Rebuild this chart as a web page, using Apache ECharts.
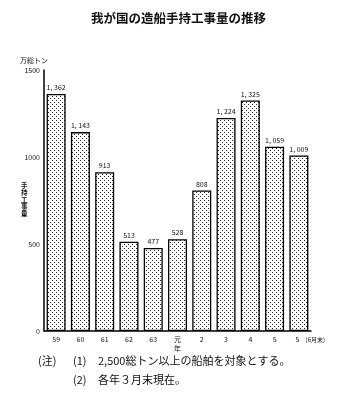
<!DOCTYPE html>
<html><head><meta charset="utf-8">
<script src="https://cdn.jsdelivr.net/npm/echarts@6/dist/echarts.min.js"></script>
<style>html,body{margin:0;padding:0;background:#fff}#c{width:357px;height:398px}</style>
</head><body><div id="c"></div>
<script>
var categories = ['59','60','61','62','63','元\n年','2','3','4','5','5 (6月末)'];
var values = [1362,1143,913,513,477,528,808,1224,1325,1059,1009];
var yTicks = [0,500,1000,1500];
var title = '我が国の造船手持工事量の推移';
var yUnit = '万総トン';
var yName = '手持工事量';
var noteHead = '(注)';
var noteNums = ['(1)','(2)'];
var notes = ['2,500総トン以上の船舶を対象とする。','各年３月末現在。'];

var FONT = '"Noto Sans CJK JP", sans-serif';
var cv = document.createElement('canvas');
cv.width = 4; cv.height = 4;
var cx = cv.getContext('2d');
cx.fillStyle = '#fff'; cx.fillRect(0,0,4,4);
cx.fillStyle = '#222';
cx.fillRect(0,0,1,1); cx.fillRect(2,2,1,1);

var chart = echarts.init(document.getElementById('c'), null, {renderer:'canvas'});
chart.setOption({
  animation:false,
  backgroundColor:'#fff',
  title:{text:title,left:'center',top:7,textStyle:{fontFamily:FONT,fontSize:12.5,fontWeight:'bold',color:'#111'}},
  grid:{left:44,right:46,top:70,bottom:67},
  xAxis:{type:'category',data:categories,
    axisLine:{lineStyle:{color:'#000',width:1.5}},axisTick:{show:false},
    axisLabel:{interval:0,margin:4,fontFamily:FONT,fontSize:7,color:'#111',lineHeight:9,
      formatter:function(v,i){ if(i===categories.length-1){ var p=v.split(' '); return '{p|}{n|'+p[0]+'}{s|'+p[1]+'}'; } return v; },
      rich:{p:{width:26},n:{fontSize:7,fontFamily:FONT,color:'#111'},s:{width:26,fontSize:6,fontFamily:FONT,color:'#111',padding:[0,0,0,3]}}}},
  yAxis:{type:'value',min:yTicks[0],max:yTicks[yTicks.length-1],interval:500,
    axisLine:{show:true,lineStyle:{color:'#000',width:1.5}},axisTick:{show:false},splitLine:{show:false},
    axisLabel:{margin:4,fontFamily:FONT,fontSize:7,color:'#111',formatter:function(v){return String(v);}}},
  graphic:[
    {type:'text',left:20,top:57,style:{text:yUnit,fontFamily:FONT,fontSize:7,fill:'#111'}},
    {type:'text',left:21,top:182,style:{text:yName.split('').join('\n'),fontFamily:FONT,fontSize:6.5,lineHeight:7,fill:'#111',fontWeight:'bold'}},
    {type:'text',left:38,top:355,style:{text:noteHead,fontFamily:FONT,fontSize:11,fill:'#111'}},
    {type:'text',left:73,top:355,style:{text:noteNums[0],fontFamily:FONT,fontSize:11,fill:'#111'}},
    {type:'text',left:98,top:355,style:{text:notes[0],fontFamily:FONT,fontSize:11,fill:'#111'}},
    {type:'text',left:73,top:374,style:{text:noteNums[1],fontFamily:FONT,fontSize:11,fill:'#111'}},
    {type:'text',left:98,top:374,style:{text:notes[1],fontFamily:FONT,fontSize:11,fill:'#111'}}
  ],
  series:[{type:'bar',data:values,barWidth:19,
    itemStyle:{color:{image:cv,repeat:'repeat'},borderColor:'#000',borderWidth:1.3},
    label:{show:true,position:'top',distance:3,fontFamily:FONT,fontSize:7,color:'#111',
      formatter:function(p){return p.value.toLocaleString('en-US').replace(',', ', ');}}}]
});
</script></body></html>
